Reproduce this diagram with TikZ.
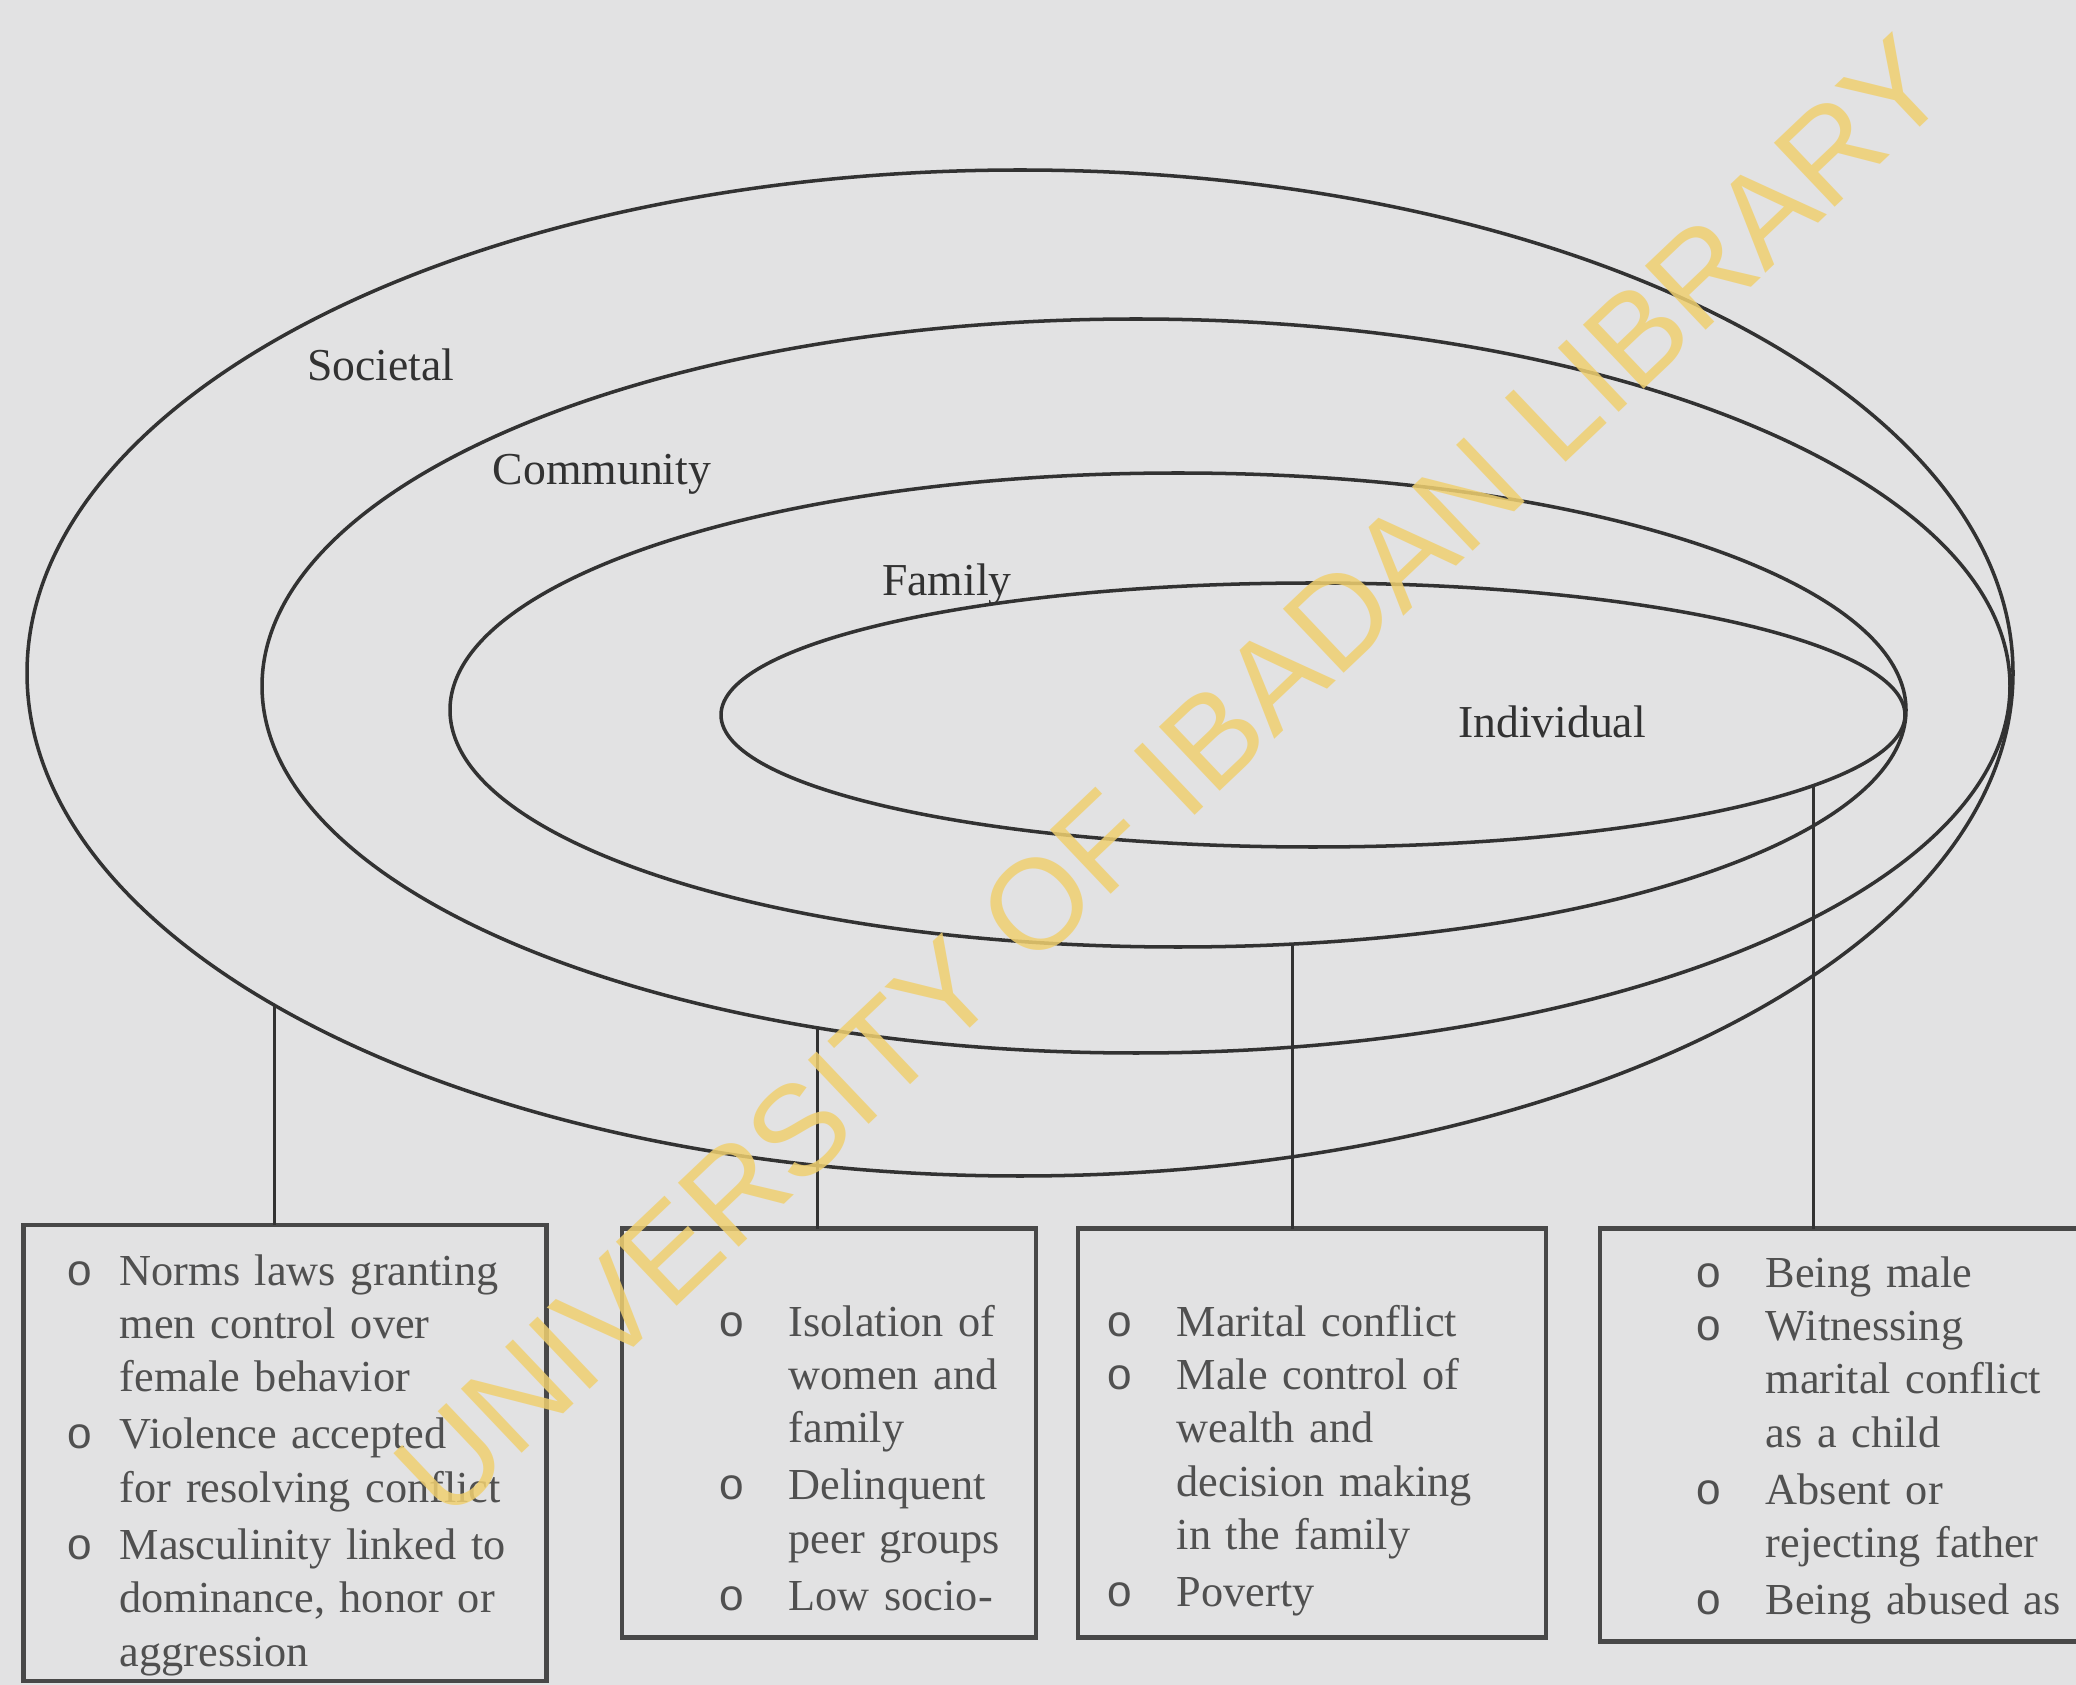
\documentclass[tikz,border=0pt]{standalone}
\usepackage{fontspec}
\setmainfont{Liberation Serif}
\newfontfamily\wmfont{Liberation Sans}
\newfontfamily\bulletfont{Liberation Mono}
\usetikzlibrary{shapes.geometric}

\definecolor{paper}{RGB}{226,226,227}
\definecolor{ink}{RGB}{50,50,50}
\definecolor{boxink}{RGB}{72,72,72}
\definecolor{textgray}{RGB}{80,80,80}
\definecolor{wmyellow}{RGB}{240,208,112}

% one bullet of a list, lines broken by hand
\newcommand{\riskitem}[2][7mm]{\noindent\makebox[#1][l]{\bulletfont o}\begin{tabular}[t]{@{}l@{}}#2\end{tabular}\par}

\begin{document}
\begin{tikzpicture}[
  x=0.1mm,y=-0.1mm,
  ring/.style={draw=ink,line width=1pt,ellipse,inner sep=0pt,outer sep=0pt},
  level/.style={text=ink,font=\fontsize{13}{15}\selectfont},
  riskbox/.style={draw=boxink,line width=1.2pt,inner sep=0pt,outer sep=0pt},
  risklist/.style={anchor=north west,inner sep=0pt,text width=60mm,align=left,
    text=textgray,font=\fontsize{12.6}{15.2}\selectfont},
  link/.style={draw=ink,line width=0.9pt},
  watermark/.style={rotate=43.5,text=wmyellow,text opacity=0.85,
    font=\wmfont\fontsize{36.5}{40}\selectfont}
]
  \fill[paper] (0,0) rectangle (2076,1685);
  \clip (0,0) rectangle (2076,1685);

  % the four levels
  \node[ring,minimum width=198.6mm,minimum height=100.6mm] (soc) at (1020,673) {};
  \node[ring,minimum width=174.8mm,minimum height=73.4mm] (com) at (1136,686) {};
  \node[ring,minimum width=145.6mm,minimum height=47.4mm] (fam) at (1178,710) {};
  \node[ring,minimum width=118.4mm,minimum height=26.4mm] (ind) at (1313,715) {};

  \node[level] (soclabel) at (381,365) {Societal};
  \node[level] (comlabel) at (602,474) {Community};
  \node[level] (famlabel) at (947,585) {Family};
  \node[level] (indlabel) at (1552,722) {Individual};

  % boxes of risk factors
  \node[riskbox,minimum width=52.3mm,minimum height=45.6mm] (socbox) at (285,1453) {};
  \node[riskbox,minimum width=41.4mm,minimum height=40.9mm] (combox) at (829,1433) {};
  \node[riskbox,minimum width=46.8mm,minimum height=40.9mm] (fambox) at (1312,1433) {};
  \node[riskbox,minimum width=55mm,minimum height=41.3mm] (indbox) at (1875,1435) {};

  \draw[link] (soc.204.5) -- (soc.204.5 |- socbox.north);
  \draw[link] (com.227.6) -- (com.227.6 |- combox.north);
  \draw[link] (fam.-64.9) -- (fam.-64.9 |- fambox.north);
  \draw[link] (ind.-8.07) -- (ind.-8.07 |- indbox.north);

  \node[risklist] (soclist) at (66,1247) {%
    \riskitem[5.3mm]{Norms laws granting\\men control over\\female behavior}%
    \riskitem[5.3mm]{Violence accepted\\for resolving conflict}%
    \riskitem[5.3mm]{Masculinity linked to\\dominance, honor or\\aggression}};
  \node[risklist] (comlist) at (718,1298) {%
    \riskitem{Isolation of\\women and\\family}%
    \riskitem{Delinquent\\peer groups}%
    \riskitem{Low socio-}};
  \node[risklist] (famlist) at (1106,1298) {%
    \riskitem{Marital conflict}%
    \riskitem{Male control of\\wealth and\\decision making\\in the family}%
    \riskitem{Poverty}};
  \node[risklist] (indlist) at (1695,1249) {%
    \riskitem{Being male}%
    \riskitem{Witnessing\\marital conflict\\as a child}%
    \riskitem{Absent or\\rejecting father}%
    \riskitem{Being abused as}};

  \node[watermark] (wmark) at (1171,777) {UNIVERSITY OF IBADAN LIBRARY};
\end{tikzpicture}
\end{document}
